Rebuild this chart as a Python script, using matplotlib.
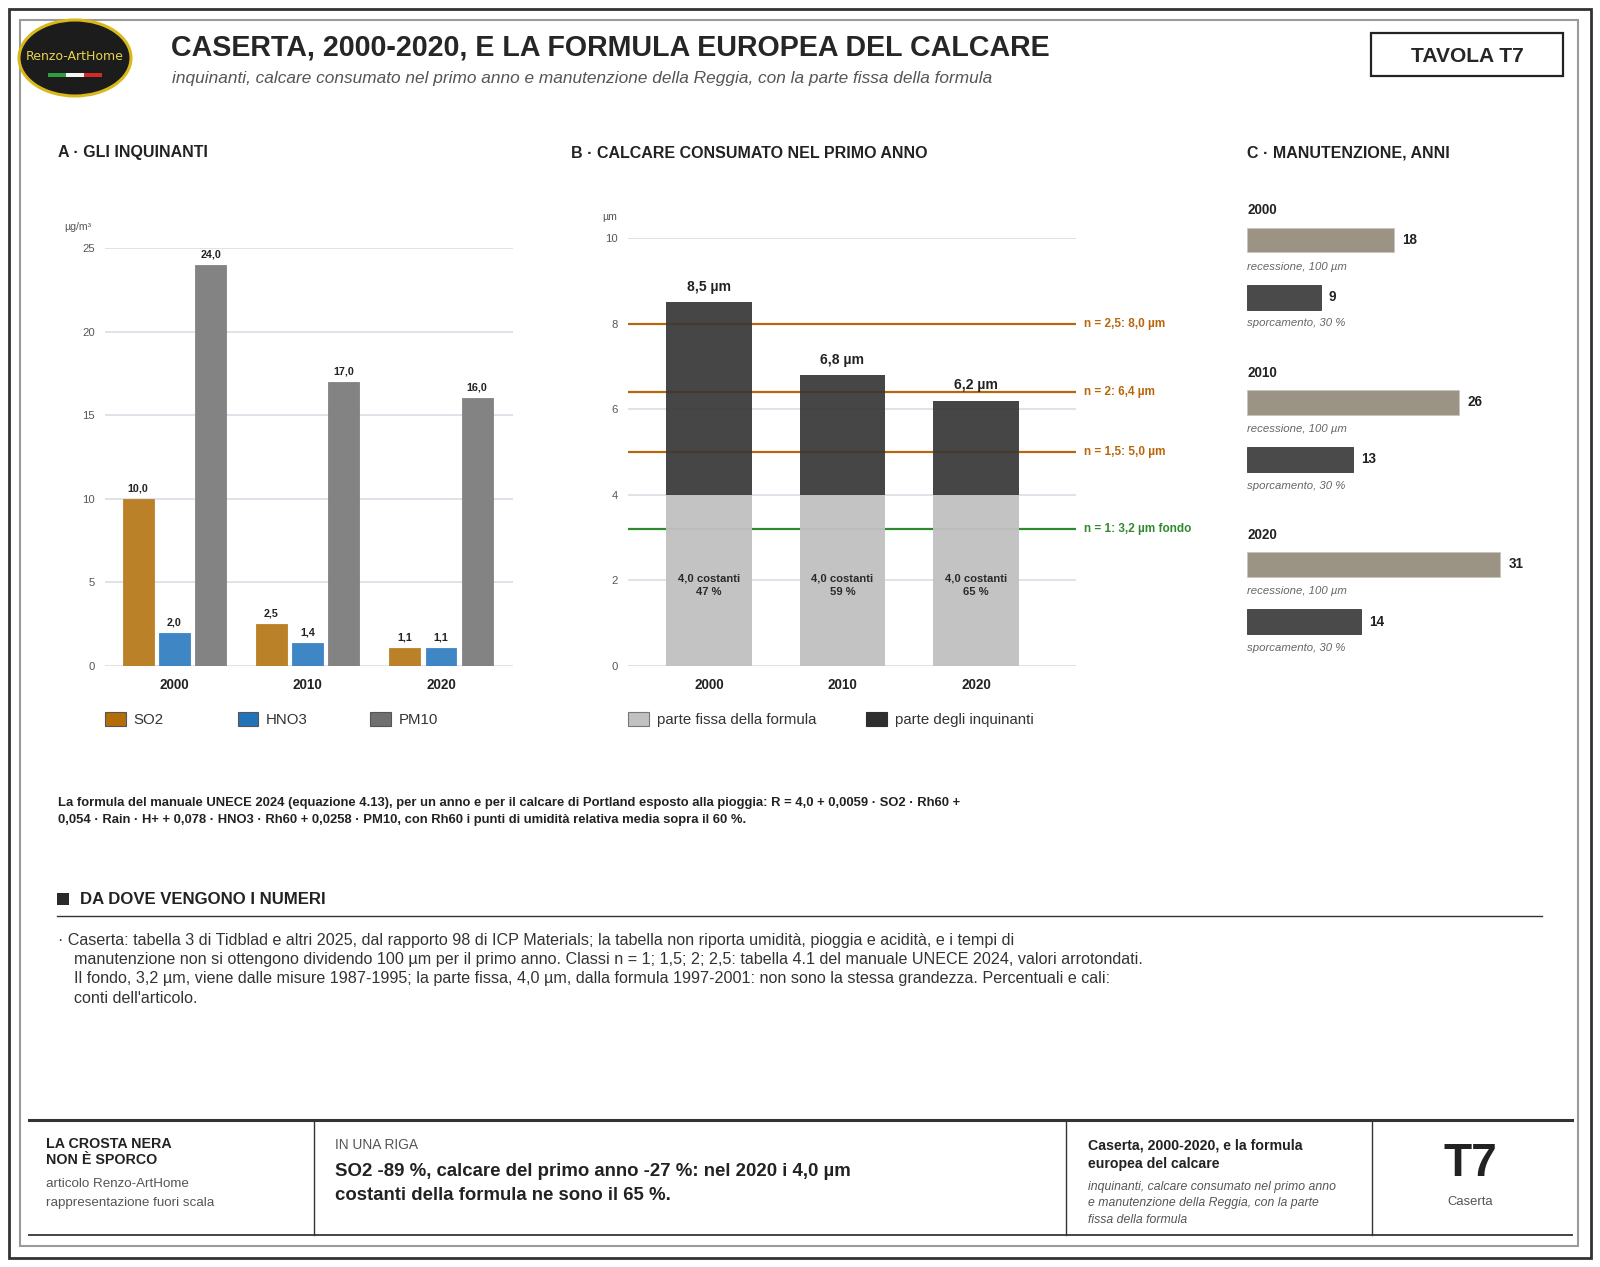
import numpy as np
import matplotlib
matplotlib.use("Agg")
import matplotlib.pyplot as plt
from matplotlib.patches import Rectangle, Ellipse
from matplotlib import font_manager

plt.rcParams['font.family'] = ['Liberation Sans', 'DejaVu Sans']

# ---------------- data ----------------
years = ['2000', '2010', '2020']
so2 = [10.0, 2.5, 1.1]
hno3 = [2.0, 1.4, 1.1]
pm10 = [24.0, 17.0, 16.0]
fixed_part = [4.0, 4.0, 4.0]
total_first_year = [8.5, 6.8, 6.2]
fixed_share = [47, 59, 65]
class_values = [8.0, 6.4, 5.0, 3.2]
class_labels = ['n = 2,5: 8,0 µm', 'n = 2: 6,4 µm', 'n = 1,5: 5,0 µm', 'n = 1: 3,2 µm fondo']
recession_years = [18, 26, 31]
soiling_years = [9, 13, 14]

W, H = 1600, 1267
fig = plt.figure(figsize=(W / 100, H / 100), dpi=100)
fig.patch.set_facecolor('white')

PT = 0.72  # px -> pt

bg = fig.add_axes([0, 0, 1, 1])
bg.set_xlim(0, W)
bg.set_ylim(H, 0)
bg.axis('off')
bg.set_zorder(-5)

def ctext(x, y, s, size, **kw):
    bg.text(x, y, s, fontsize=size * PT, **kw)

def it(v):
    return f"{v:.1f}".replace('.', ',')

installed = {f.name for f in font_manager.fontManager.ttflist}
narrow = ['Liberation Sans Narrow'] if 'Liberation Sans Narrow' in installed else ['DejaVu Sans']

# borders
bg.add_patch(Rectangle((8.5, 8.5), 1582.5, 1249.5, fill=False, ec='#333333', lw=2))
bg.add_patch(Rectangle((19.5, 20), 1558.5, 1226, fill=False, ec='#9a9a9a', lw=1.5))

# logo
bg.add_patch(Ellipse((75, 58), 112, 76, fc='#1c1c1c', ec='#d9b81a', lw=2.2))
ctext(75, 57, 'Renzo-ArtHome', 15.5 if narrow[0] != 'DejaVu Sans' else 12.5,
      color='#e6d34a', ha='center', va='center', family=narrow)
bg.add_patch(Rectangle((48, 73), 18, 4, fc='#2e9e3e', ec='none'))
bg.add_patch(Rectangle((66, 73), 18, 4, fc='#f4f4f4', ec='none'))
bg.add_patch(Rectangle((84, 73), 18, 4, fc='#d42a2a', ec='none'))

# title block
ctext(171, 47, 'CASERTA, 2000-2020, E LA FORMULA EUROPEA DEL CALCARE', 28.6,
      weight='bold', color='#262626', va='center')
ctext(172, 78, 'inquinanti, calcare consumato nel primo anno e manutenzione della Reggia, '
      'con la parte fissa della formula', 17.3, style='italic', color='#555555', va='center')
bg.add_patch(Rectangle((1370.5, 32.5), 192.5, 43, fill=False, ec='#222222', lw=1.6))
ctext(1467, 56.5, 'TAVOLA T7', 21, weight='bold', color='#262626', ha='center', va='center')

# panel titles
ctext(58, 153, 'A · GLI INQUINANTI', 16, weight='bold', color='#222222', va='center')
ctext(571, 153, 'B · CALCARE CONSUMATO NEL PRIMO ANNO', 16, weight='bold', color='#222222', va='center')
ctext(1247, 153, 'C · MANUTENZIONE, ANNI', 16, weight='bold', color='#222222', va='center')

grid_c = '#d6dae1'

# ---------------- panel A ----------------
axA = fig.add_axes([105 / W, 1 - 666 / H, 408 / W, (666 - 248) / H])
x = np.arange(len(years))
off = 0.272
bw = 0.232
colsA = ['#bb8128', '#3f86c5', '#838383']
for i, (vals, c) in enumerate(zip([so2, hno3, pm10], colsA)):
    xs = x + (i - 1) * off
    axA.bar(xs, vals, width=bw, color=c, edgecolor=c, lw=0.6, zorder=3)
    for xx, v in zip(xs, vals):
        axA.annotate(it(v), (xx, v), xytext=(0, 4), textcoords='offset points',
                     ha='center', va='bottom', fontsize=10.8 * PT, weight='bold', color='#222222')
axA.set_xlim(-0.52, 2.54)
axA.set_ylim(0, 25)
axA.set_yticks([0, 5, 10, 15, 20, 25])
axA.set_xticks(x)
axA.set_xticklabels(years, fontsize=13.5 * PT, weight='bold', color='#222222')
axA.tick_params(axis='y', length=0, pad=10 * PT, labelsize=11.3 * PT, labelcolor='#555555')
axA.tick_params(axis='x', length=0, pad=12 * PT)
axA.grid(axis='y', color=grid_c, lw=1.1, zorder=0)
for s in axA.spines.values():
    s.set_visible(False)
axA.set_axisbelow(True)
ctext(64, 227, 'µg/m³', 10.5, color='#555555', va='center')

# legend A
legA_x = [105, 237.8, 370.4]
legA_cols = ['#b36e0a', '#2373ba', '#707070']
for lx, c, name in zip(legA_x, legA_cols, ['SO2', 'HNO3', 'PM10']):
    bg.add_patch(Rectangle((lx, 712), 20.5, 14, fc=c, ec='#555555', lw=0.8))
    ctext(lx + 28, 720, name, 15, color='#333333', va='center')

# ---------------- panel B ----------------
axB = fig.add_axes([627.5 / W, 1 - 666 / H, 448 / W, (666 - 238) / H])
pollut = [t - f for t, f in zip(total_first_year, fixed_part)]
cls_cols = ['#b8660b', '#b8660b', '#b8660b', '#2f8a2f']
for v, c, lab in zip(class_values, cls_cols, class_labels):
    axB.axhline(v, color=c, lw=1.6, zorder=2)
    axB.annotate(lab, (1, v), xycoords=('axes fraction', 'data'), xytext=(8 * PT, 0),
                 textcoords='offset points', va='center', ha='left',
                 fontsize=11.8 * PT, weight='bold', color=c)
axB.bar(x, fixed_part, width=0.64, color='#c1c1c1', zorder=3, alpha=0.96)
axB.bar(x, pollut, bottom=fixed_part, width=0.64, color='#383838', zorder=3, alpha=0.93)
for xx, t, p in zip(x, total_first_year, fixed_share):
    axB.annotate(it(t) + ' µm', (xx, t), xytext=(0, 6), textcoords='offset points',
                 ha='center', va='bottom', fontsize=14 * PT, weight='bold', color='#222222', zorder=5)
    axB.text(xx, 1.88, '4,0 costanti\n' + f'{p} %', ha='center', va='center',
             fontsize=11.3 * PT, weight='bold', color='#2a2a2a', linespacing=1.45, zorder=5)
axB.set_xlim(-0.61, 2.745)
axB.set_ylim(0, 10)
axB.set_yticks([0, 2, 4, 6, 8, 10])
axB.set_xticks(x)
axB.set_xticklabels(years, fontsize=13.5 * PT, weight='bold', color='#222222')
axB.tick_params(axis='y', length=0, pad=10 * PT, labelsize=11.3 * PT, labelcolor='#555555')
axB.tick_params(axis='x', length=0, pad=12 * PT)
axB.grid(axis='y', color=grid_c, lw=1.1, zorder=0)
for s in axB.spines.values():
    s.set_visible(False)
axB.set_axisbelow(True)
ctext(602, 217, 'µm', 10.5, color='#555555', va='center')

bg.add_patch(Rectangle((627.5, 712), 21, 14, fc='#c1c1c1', ec='#777777', lw=0.8))
ctext(657, 720, 'parte fissa della formula', 15, color='#333333', va='center')
bg.add_patch(Rectangle((866.3, 712), 21, 14, fc='#2e2e2e', ec='#2e2e2e', lw=0.8))
ctext(895, 720, 'parte degli inquinanti', 15, color='#333333', va='center')

# ---------------- panel C ----------------
axC = fig.add_axes([1247 / W, 1 - 660 / H, 330 / W, (660 - 190) / H])
axC.set_xlim(0, 330 / 8.17)
axC.set_ylim(660, 190)
axC.axis('off')
base = [210.5 + 162.2 * i for i in range(3)]
rec_y = [b + 29.6 for b in base]
soil_y = [b + 86.8 for b in base]
axC.barh(rec_y, recession_years, height=24.5, color='#9b9485', edgecolor='#c9c5bc', lw=0.6)
axC.barh(soil_y, soiling_years, height=24.5, color='#4a4a4a', edgecolor='#3a3a3a', lw=0.6)
for b, ry, sy, r, s, yr in zip(base, rec_y, soil_y, recession_years, soiling_years, years):
    axC.text(0, b, yr, fontsize=13.5 * PT, weight='bold', color='#222222', va='center')
    axC.annotate(str(r), (r, ry), xytext=(8 * PT, 0), textcoords='offset points',
                 va='center', fontsize=13.5 * PT, weight='bold', color='#222222')
    axC.annotate(str(s), (s, sy), xytext=(8 * PT, 0), textcoords='offset points',
                 va='center', fontsize=13.5 * PT, weight='bold', color='#222222')
    axC.text(0, b + 56, 'recessione, 100 µm', fontsize=11.4 * PT, style='italic',
             color='#666666', va='center')
    axC.text(0, b + 113, 'sporcamento, 30 %', fontsize=11.4 * PT, style='italic',
             color='#666666', va='center')

# ---------------- formula note ----------------
ctext(58, 803, 'La formula del manuale UNECE 2024 (equazione 4.13), per un anno e per il calcare di '
      'Portland esposto alla pioggia: R = 4,0 + 0,0059 · SO2 · Rh60 +', 13,
      weight='bold', color='#222222', va='center')
ctext(58, 820, '0,054 · Rain · H+ + 0,078 · HNO3 · Rh60 + 0,0258 · PM10, con Rh60 i punti di '
      'umidità relativa media sopra il 60 %.', 13, weight='bold', color='#222222', va='center')

# ---------------- sources ----------------
bg.add_patch(Rectangle((57, 893), 11.5, 11.5, fc='#2a2a2a', ec='none'))
ctext(80.5, 900, 'DA DOVE VENGONO I NUMERI', 16.8, weight='bold', color='#222222', va='center')
bg.plot([57, 1542], [916, 916], color='#333333', lw=1)
src_lines = [
    ('· Caserta: tabella 3 di Tidblad e altri 2025, dal rapporto 98 di ICP Materials; la tabella non '
     'riporta umidità, pioggia e acidità, e i tempi di', 58),
    ('manutenzione non si ottengono dividendo 100 µm per il primo anno. Classi n = 1; 1,5; 2; 2,5: '
     'tabella 4.1 del manuale UNECE 2024, valori arrotondati.', 74.5),
    ('Il fondo, 3,2 µm, viene dalle misure 1987-1995; la parte fissa, 4,0 µm, dalla formula '
     '1997-2001: non sono la stessa grandezza. Percentuali e cali:', 74.5),
    ("conti dell'articolo.", 74.5),
]
for k, (s, lx) in enumerate(src_lines):
    ctext(lx, 940 + 19.4 * k, s, 16.1, color='#333333', va='center')

# ---------------- footer ----------------
bg.plot([28.5, 1571.5], [1120, 1120], color='#333333', lw=2.2)
bg.plot([28.5, 1571.5], [1235, 1235], color='#444444', lw=1.4)
for dx in [314, 1066, 1371.5]:
    bg.plot([dx, dx], [1120, 1235], color='#333333', lw=1)
ctext(46, 1144, 'LA CROSTA NERA', 14.2, weight='bold', color='#222222', va='center')
ctext(46, 1160, 'NON È SPORCO', 14.2, weight='bold', color='#222222', va='center')
ctext(46, 1184, 'articolo Renzo-ArtHome', 13.4, color='#555555', va='center')
ctext(46, 1203, 'rappresentazione fuori scala', 13.4, color='#555555', va='center')
ctext(335, 1145, 'IN UNA RIGA', 13.8, color='#555555', va='center')
ctext(335, 1171, 'SO2 -89 %, calcare del primo anno -27 %: nel 2020 i 4,0 µm', 18.6,
      weight='bold', color='#222222', va='center')
ctext(335, 1196, 'costanti della formula ne sono il 65 %.', 18.6,
      weight='bold', color='#222222', va='center')
ctext(1088, 1146, 'Caserta, 2000-2020, e la formula', 14.1, weight='bold', color='#222222', va='center')
ctext(1088, 1164, 'europea del calcare', 14.1, weight='bold', color='#222222', va='center')
for k, s in enumerate(['inquinanti, calcare consumato nel primo anno',
                       'e manutenzione della Reggia, con la parte',
                       'fissa della formula']):
    ctext(1088, 1187 + 16.3 * k, s, 12.2, style='italic', color='#555555', va='center')
ctext(1470.5, 1164, 'T7', 46, weight='bold', color='#222222', ha='center', va='center')
ctext(1470.5, 1202, 'Caserta', 13, color='#555555', ha='center', va='center')

fig.savefig('out.png', dpi=100, facecolor='white')
